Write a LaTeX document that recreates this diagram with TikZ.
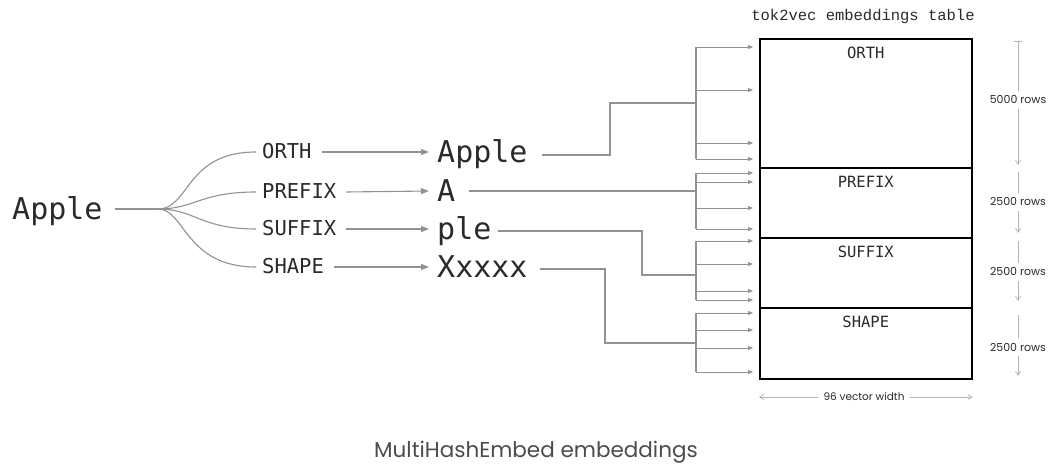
\documentclass[tikz,border=0pt]{standalone}
\usepackage{fontspec}
\setmonofont{DejaVu Sans Mono}
\setsansfont{Poppins}
\newfontfamily\titlemono{Liberation Mono}
\usetikzlibrary{arrows.meta,calc}

\definecolor{wire}{HTML}{929292}
\definecolor{dimgray}{HTML}{B4B4B4}
\definecolor{inktext}{HTML}{2A2A2A}

\tikzset{
  word/.style={inner sep=0pt, anchor=west, text=inktext, font=\ttfamily\fontsize{30}{30}\selectfont, text height=21pt, text depth=0pt},
  feat/.style={inner sep=0pt, anchor=west, text=inktext, font=\ttfamily\fontsize{20.5}{20.5}\selectfont, text height=13pt, text depth=0pt},
  wirepath/.style={draw=wire, line width=1.1pt},
  feedarrow/.style={draw=wire, line width=1.1pt, -{Triangle[length=8pt,width=6pt]}},
  busarrow/.style={draw=wire, line width=0.7pt, -{Triangle[length=5pt,width=4pt]}},
  section/.style={draw=black, line width=1.6pt, minimum width=212pt, inner sep=0pt, anchor=north west},
  seclabel/.style={inner sep=0pt, text=inktext, font=\ttfamily\fontsize{15.5}{15.5}\selectfont},
  dimline/.style={draw=dimgray, line width=0.8pt},
  dimarrow/.style={draw=dimgray, line width=0.8pt, -{Straight Barb[length=4pt,width=5pt]}},
  dimtext/.style={inner sep=1pt, text=inktext, font=\sffamily\fontsize{11}{11}\selectfont},
}

\begin{document}
\begin{tikzpicture}[x=1pt, y=-1pt]
\useasboundingbox (0,0) rectangle (1049,465);

% source token
\node[word] (src) at (12,209) {Apple};

% attribute names
\node[feat] (lorth) at (262,152) {ORTH};
\node[feat] (lprefix) at (262,192) {PREFIX};
\node[feat] (lsuffix) at (262,229) {SUFFIX};
\node[feat] (lshape) at (262,267) {SHAPE};

% attribute values
\node[word] (vorth) at (437,152) {Apple};
\node[word] (vprefix) at (437,191) {A};
\node[word] (vsuffix) at (437,229) {ple};
\node[word] (vshape) at (437,267) {Xxxxx};

% fan-out from the token
\coordinate (fork) at (158,209);
\draw[wirepath] ([xshift=12pt]src.east) -- (fork);
\draw[wirepath] (fork) .. controls (190,209) and (185,152) .. ([xshift=-6pt]lorth.west);
\draw[wirepath] (fork) .. controls (195,209) and (200,192) .. ([xshift=-6pt]lprefix.west);
\draw[wirepath] (fork) .. controls (195,209) and (200,229) .. ([xshift=-6pt]lsuffix.west);
\draw[wirepath] (fork) .. controls (185,209) and (185,267) .. ([xshift=-6pt]lshape.west);

% attribute -> value
\draw[feedarrow] ([xshift=10pt]lorth.east) -- ([xshift=-8pt]vorth.west);
\draw[feedarrow] ([xshift=10pt]lprefix.east) -- ([xshift=-8pt]vprefix.west);
\draw[feedarrow] ([xshift=10pt]lsuffix.east) -- ([xshift=-8pt]vsuffix.west);
\draw[feedarrow] ([xshift=10pt]lshape.east) -- ([xshift=-8pt]vshape.west);

% embedding table sections
\node[section, minimum height=129pt] (torth) at (759,38) {};
\node[section, minimum height=70pt] (tprefix) at (759,167) {};
\node[section, minimum height=70pt] (tsuffix) at (759,237) {};
\node[section, minimum height=71pt] (tshape) at (759,307) {};
\node[seclabel] at ([yshift=-15pt]torth.north) {ORTH};
\node[seclabel] at ([yshift=-15pt]tprefix.north) {PREFIX};
\node[seclabel] at ([yshift=-15pt]tsuffix.north) {SUFFIX};
\node[seclabel] at ([yshift=-15pt]tshape.north) {SHAPE};
\node[inner sep=0pt, text=inktext, font=\titlemono\fontsize{15.5}{15.5}\selectfont] (ttitle) at (863,16) {tok2vec embeddings table};

% hash buses
\coordinate (bus) at (696,0);
\draw[wirepath] ([xshift=14pt]vorth.east |- 0,155) -- (610,155) -- (610,103) -- (bus |- 0,103);
\draw[wirepath] (bus |- 0,47) -- (bus |- 0,159);
\foreach \r in {47,90,143,159}
  \draw[busarrow, shorten >=6pt] (bus |- 0,\r) -- (torth.west |- 0,\r);

\draw[wirepath] ([xshift=14pt]vprefix.east |- 0,191) -- (bus |- 0,191);
\draw[wirepath] (bus |- 0,173) -- (bus |- 0,229);
\foreach \r in {173,182,208,229}
  \draw[busarrow, shorten >=6pt] (bus |- 0,\r) -- (tprefix.west |- 0,\r);

\draw[wirepath] ([xshift=6pt]vsuffix.east |- 0,231) -- (642,231) -- (642,275) -- (bus |- 0,275);
\draw[wirepath] (bus |- 0,241) -- (bus |- 0,300);
\foreach \r in {241,264,291,300}
  \draw[busarrow, shorten >=6pt] (bus |- 0,\r) -- (tsuffix.west |- 0,\r);

\draw[wirepath] ([xshift=12pt]vshape.east |- 0,269) -- (605,269) -- (605,343) -- (bus |- 0,343);
\draw[wirepath] (bus |- 0,313) -- (bus |- 0,372);
\foreach \r in {313,330,348,372}
  \draw[busarrow, shorten >=6pt] (bus |- 0,\r) -- (tshape.west |- 0,\r);

% row counts
\node[dimtext] (r1) at (1018,100) {5000 rows};
\node[dimtext] (r2) at (1018,202) {2500 rows};
\node[dimtext] (r3) at (1018,272) {2500 rows};
\node[dimtext] (r4) at (1018,347) {2500 rows};
\draw[dimline] (1014,41) -- (1022,41);
\draw[dimline] (1018,41) -- ([yshift=4pt]r1.north);
\draw[dimarrow] ([yshift=-4pt]r1.south) -- (1018,165);
\draw[dimline] (1018,172) -- ([yshift=4pt]r2.north);
\draw[dimarrow] ([yshift=-4pt]r2.south) -- (1018,233);
\draw[dimline] (1018,241) -- ([yshift=4pt]r3.north);
\draw[dimarrow] ([yshift=-4pt]r3.south) -- (1018,301);
\draw[dimline] (1018,315) -- ([yshift=4pt]r4.north);
\draw[dimarrow] ([yshift=-4pt]r4.south) -- (1018,376);

% vector width
\node[dimtext, font=\sffamily\fontsize{10.5}{10.5}\selectfont] (vw) at (864,397) {96 vector width};
\draw[dimarrow] ([xshift=-4pt]vw.west) -- (torth.west |- 0,397);
\draw[dimarrow] ([xshift=4pt]vw.east) -- (torth.east |- 0,397);

% caption
\node[inner sep=0pt, text=black!70, font=\sffamily\fontsize{21.5}{21.5}\selectfont] (caption) at (536,452) {MultiHashEmbed embeddings};
\end{tikzpicture}
\end{document}
